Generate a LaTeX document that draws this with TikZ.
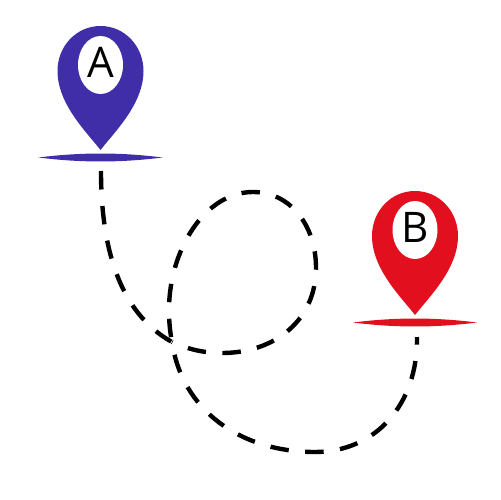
\documentclass[tikz,border=0pt]{standalone}
\usepackage{fontspec}
\setmainfont{Open Sans}
\usetikzlibrary{shapes.geometric}
\definecolor{pinblue}{HTML}{3F2EA8}
\definecolor{pinred}{HTML}{E2101E}
\tikzset{
    route/.style={line width=2.5pt, black},
    hole/.style={ellipse, fill=white, inner sep=0pt, minimum width=0.9cm, minimum height=1.16cm, text depth=0.12cm, font=\fontsize{24}{24}\selectfont},
}
\begin{document}
\begin{tikzpicture}[x=0.02cm, y=-0.02cm]
            \useasboundingbox (0,0) rectangle (500,500);

            \foreach \tipx/\tipy/\col/\lab in {100.5/150/pinblue/A, 415/315/pinred/B} {
                \fill[\col, shift={(\tipx,\tipy)}] (0,0) .. controls (-14,-18) and (-43,-46) .. (-43,-79)
                    .. controls (-43,-104) and (-24,-124) .. (0,-124)
                    .. controls (24,-124) and (43,-104) .. (43,-79)
                    .. controls (43,-46) and (14,-18) .. (0,0);
                \fill[\col, shift={(\tipx,\tipy)}] (-62,7.5) .. controls (-20,2.2) and (20,2.2) .. (62,7.5)
                    .. controls (20,12.8) and (-20,12.8) .. (-62,7.5);
                \node[hole] (\lab) at (\tipx,\tipy-85) {\lab};
            }

            \coordinate (start) at (101,171);
            \coordinate (cross) at (172,342);
            \coordinate (end) at (417,337);

            \draw[route, dash pattern=on 0.37cm off 0.33cm] (start) .. controls (101,245) and (118,312) .. (cross);
            \draw[route, dash pattern=on 0.37cm off 0.33cm, dash phase=0.36cm] (cross) .. controls (190,350) and (205,353) .. (222,353)
                .. controls (275,353) and (316,320) .. (316,268)
                .. controls (316,225) and (290,192) .. (253,192)
                .. controls (205,192) and (169,250) .. (169,310)
                .. controls (169,322) and (170,332) .. (cross);
            \draw[route, dash pattern=on 0.37cm off 0.33cm, dash phase=0.44cm] (cross) .. controls (182,410) and (240,452) .. (315,452)
                .. controls (375,452) and (418,405) .. (end);
\end{tikzpicture}
\end{document}
